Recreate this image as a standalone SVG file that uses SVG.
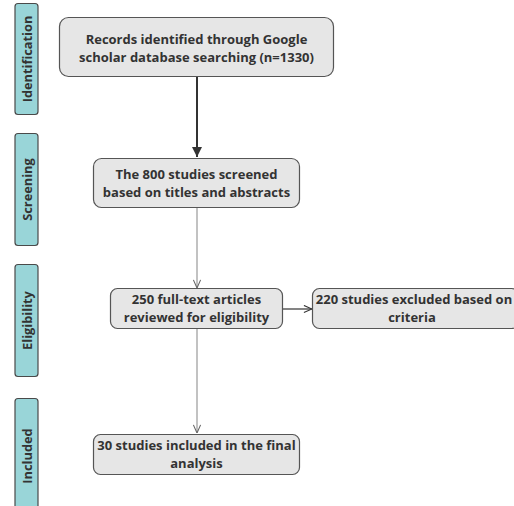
<svg xmlns="http://www.w3.org/2000/svg" width="514" height="506" viewBox="0 0 514 506">
<defs>
<style>
.lab rect{fill:#99d5d8;stroke:#4a4a4a;stroke-width:1.2}
.lab text{font-family:"Open Sans","DejaVu Sans",sans-serif;font-weight:bold;font-size:12.8px;fill:#333;text-anchor:middle}
.node rect{fill:#e6e6e6;stroke:#555;stroke-width:1.2}
.node text{font-family:"Open Sans","DejaVu Sans",sans-serif;font-weight:bold;font-size:13px;fill:#333;text-anchor:middle}
</style>
<marker id="ah" viewBox="0 0 10 10" refX="10" refY="5" markerWidth="10" markerHeight="10" markerUnits="userSpaceOnUse" orient="auto"><path d="M0,0 L10,5 L0,10 Z" fill="#333"/></marker>
<marker id="oa" viewBox="0 0 10 10" refX="10" refY="5" markerWidth="9" markerHeight="9" markerUnits="userSpaceOnUse" orient="auto"><path d="M1,1 L10,5 L1,9" fill="none" stroke="#666" stroke-width="1.2"/></marker>
<marker id="ob" viewBox="0 0 10 10" refX="10" refY="5" markerWidth="9" markerHeight="9" markerUnits="userSpaceOnUse" orient="auto"><path d="M1,1 L10,5 L1,9" fill="none" stroke="#333" stroke-width="1.2"/></marker>
</defs>
<g id="lab-identification" class="lab"><rect x="15" y="3.5" width="23" height="111" rx="3"/><text transform="translate(31.5,59) rotate(-90)">Identification</text></g>
<g id="lab-screening" class="lab"><rect x="15" y="133.5" width="23" height="112" rx="3"/><text transform="translate(31.5,189.5) rotate(-90)">Screening</text></g>
<g id="lab-eligibility" class="lab"><rect x="15" y="264.5" width="23" height="112" rx="3"/><text transform="translate(31.5,320.5) rotate(-90)">Eligibility</text></g>
<g id="lab-included" class="lab"><rect x="15" y="398.5" width="23" height="120" rx="3"/><text transform="translate(31.5,456) rotate(-90)">Included</text></g>
<g id="connectors">
<line x1="197" y1="77" x2="197" y2="157" stroke="#333" stroke-width="2" marker-end="url(#ah)"/>
<line x1="197" y1="208" x2="197" y2="288" stroke="#999" stroke-width="1.2" marker-end="url(#oa)"/>
<line x1="197" y1="329" x2="197" y2="433" stroke="#999" stroke-width="1.2" marker-end="url(#oa)"/>
<line x1="283" y1="309" x2="312" y2="309" stroke="#333" stroke-width="1.2" marker-end="url(#ob)"/>
</g>
<g id="n1" class="node"><rect x="59.5" y="17.5" width="274" height="59" rx="9"/><text x="196.5" y="44">Records identified through Google</text><text x="196.5" y="61.5">scholar database searching (n=1330)</text></g>
<g id="n2" class="node"><rect x="93.5" y="158.5" width="206" height="49" rx="8"/><text x="196.5" y="179">The 800 studies screened</text><text x="196.5" y="196.5">based on titles and abstracts</text></g>
<g id="n3" class="node"><rect x="110.5" y="288.5" width="172" height="40" rx="7"/><text x="196.5" y="304">250 full-text articles</text><text x="196.5" y="321.5">reviewed for eligibility</text></g>
<g id="n4" class="node"><rect x="312.5" y="288.5" width="206" height="40" rx="7"/><text x="414" y="304">220 studies excluded based on</text><text x="412" y="321.5">criteria</text></g>
<g id="n5" class="node"><rect x="93.5" y="434.5" width="206" height="40" rx="7"/><text x="196.5" y="450">30 studies included in the final</text><text x="196.5" y="467.5">analysis</text></g>
</svg>
